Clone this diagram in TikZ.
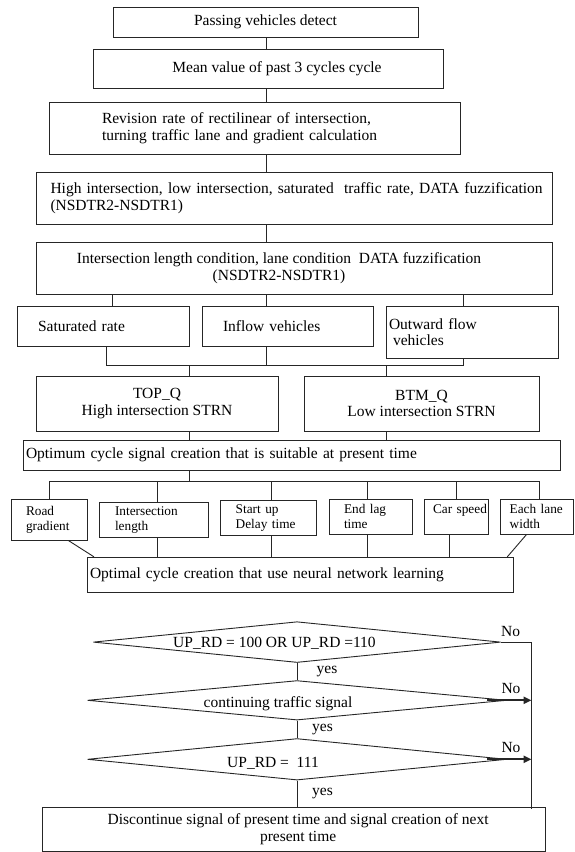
\documentclass[tikz,border=0pt]{standalone}
\usepackage{fontspec}
\setmainfont{Liberation Serif}
\usetikzlibrary{shapes.geometric,arrows.meta}

% zero-width line whose text is moved sideways (#1 = twice the offset)
\newcommand\shiftedtext[2]{\makebox[0pt]{\hspace*{#1}#2}}
% zero-size text, moved sideways (#1) and lowered (#2) from the node centre
\newcommand\liftedtext[3]{\makebox[0pt]{\hspace*{#1}\smash{\raisebox{#2}{#3}}}}

\tikzset{
  frame/.style={draw=black!85, line width=0.9pt, inner sep=0pt,
    font=\fontsize{15.5pt}{16.7pt}\selectfont},
  smallframe/.style={frame, font=\fontsize{13.3pt}{15pt}\selectfont},
  decision/.style={diamond, draw=black!85, line width=0.9pt, inner sep=0pt,
    font=\fontsize{15.5pt}{16.7pt}\selectfont},
  tag/.style={inner sep=0pt, font=\fontsize{15.5pt}{16.7pt}\selectfont},
  link/.style={draw=black!85, line width=0.9pt},
  noarrow/.style={line width=2pt, -{Triangle[length=8pt,width=7pt]}},
}

\begin{document}
\begin{tikzpicture}[x=1pt,y=-1pt]
\fill[white] (0,0) rectangle (574,852);
\useasboundingbox (0,0) rectangle (574,852);

% ---------- upper chain of processing steps ----------
\node[frame, minimum width=305pt, minimum height=30pt] (b1) at (265.5,22)
  {Passing vehicles detect};
\node[frame, minimum width=350pt, minimum height=39pt] (b2) at (268,68.5)
  {\shiftedtext{18pt}{Mean value of past 3 cycles cycle}};
\node[frame, minimum width=411pt, minimum height=52pt, text width=305pt,
      inner xsep=53pt, align=left] (b3) at (254.5,128)
  {Revision rate of rectilinear of intersection,\\ turning traffic lane and gradient calculation};
\node[frame, minimum width=516pt, minimum height=52pt, text width=487pt,
      inner xsep=14.5pt, align=left] (b4) at (294,198)
  {\mbox{High intersection, low intersection, saturated\ \ traffic rate, DATA fuzzification}\\ (NSDTR2-NSDTR1)};
\node[frame, minimum width=516pt, minimum height=52pt, align=center] (b5) at (294,268)
  {\shiftedtext{-30pt}{Intersection length condition, lane condition\ \ DATA fuzzification}\\
   \shiftedtext{-30pt}{(NSDTR2-NSDTR1)}};

% ---------- three measured quantities ----------
\node[frame, minimum width=172pt, minimum height=40pt, text width=130pt,
      inner xsep=21pt, align=left] (sat) at (103,326) {Saturated rate};
\node[frame, minimum width=171pt, minimum height=40pt, text width=129pt,
      inner xsep=21pt, align=left] (inflow) at (287.5,326) {Inflow vehicles};
\node[frame, minimum width=172pt, minimum height=52pt, text width=166pt,
      inner xsep=3pt, align=left] (outflow) at (472,332) {Outward flow\\ \hspace*{4pt}vehicles};

% ---------- high / low intersection ----------
\node[frame, minimum width=242pt, minimum height=55pt, align=center] (topq) at (157,403.5)
  {TOP\_Q\\ High intersection STRN};
\node[frame, minimum width=235pt, minimum height=55pt, align=center] (btmq) at (421.5,403.5)
  {BTM\_Q\\ Low intersection STRN};

\node[frame, minimum width=536.5pt, minimum height=29.5pt, text width=531.5pt,
      inner xsep=2.5pt, align=left] (opt1) at (291.75,455.25)
  {Optimum cycle signal creation that is suitable at present time};

% ---------- learning inputs ----------
\node[smallframe, minimum width=76.5pt, minimum height=40.7pt, text width=46.5pt,
      inner xsep=15pt, align=left] (s1) at (49.25,519.65) {Road\\ \mbox{gradient}};
\node[smallframe, minimum width=108.6pt, minimum height=35pt, text width=78pt,
      inner xsep=15.3pt, align=left] (s2) at (154,520.2) {Intersection\\ length};
\node[smallframe, minimum width=95.6pt, minimum height=35.3pt, text width=65.6pt,
      inner xsep=15pt, align=left] (s3) at (268.5,517.65) {Start up\\ Delay time};
\node[smallframe, minimum width=83.3pt, minimum height=35pt, text width=53.3pt,
      inner xsep=15pt, align=left] (s4) at (370.65,516.8) {End lag\\ time};
\node[smallframe, minimum width=63.3pt, minimum height=35pt, text width=46.7pt,
      inner xsep=8.3pt, align=left] (s5) at (456.35,516.8) {\mbox{Car speed}\\ \mbox{}};
\node[smallframe, minimum width=72.8pt, minimum height=35pt, text width=54.8pt,
      inner xsep=9pt, align=left] (s6) at (537.1,516.8) {Each lane\\ width};

\node[frame, minimum width=426pt, minimum height=35.4pt, text width=420.6pt,
      inner xsep=2.7pt, align=left] (opt2) at (300.3,575)
  {Optimal cycle creation that use neural network learning};

% ---------- decisions ----------
\node[decision, minimum width=407.4pt, minimum height=40.8pt] (d1) at (297,642.1)
  {\liftedtext{-45pt}{-5pt}{UP\_RD = 100 OR UP\_RD =110}};
\node[decision, minimum width=419pt, minimum height=39.5pt] (d2) at (297,700.3)
  {\liftedtext{-38pt}{-7pt}{continuing traffic signal}};
\node[decision, minimum width=419pt, minimum height=41.5pt] (d3) at (297,759.3)
  {\liftedtext{-48pt}{-8.5pt}{UP\_RD =\ \ 111}};

\node[frame, minimum width=502.6pt, minimum height=43.8pt, align=center] (fin) at (294.1,829.2)
  {\shiftedtext{8pt}{Discontinue signal of present time and signal creation of next}\\
   \shiftedtext{8pt}{present time}};

\node[tag] (no1) at (510.7,631) {No};
\node[tag] (no2) at (511,688.3) {No};
\node[tag] (no3) at (511,747.7) {No};
\node[tag] (yes1) at (327,671.7) {yes};
\node[tag] (yes2) at (322.5,730) {yes};
\node[tag] (yes3) at (322.5,793.3) {yes};

% ---------- connectors ----------
\coordinate (mainx) at (266,0);
\draw[link] (b1.south -| mainx) -- (b2.north -| mainx);
\draw[link] (b2.south -| mainx) -- (b3.north -| mainx);
\draw[link] (b3.south -| mainx) -- (b4.north -| mainx);
\draw[link] (b4.south -| mainx) -- (b5.north -| mainx);
\draw[link] (b5.south -| mainx) -- (inflow.north -| mainx);

\coordinate (satx) at (112.7,0);
\coordinate (outx) at (463,0);
\draw[link] (b5.south -| satx) -- (sat.north -| satx);
\draw[link] (b5.south -| outx) -- (outflow.north -| outx);

\coordinate (busL) at (106.8,365);
\coordinate (busR) at (463,365);
\draw[link] (sat.south -| busL) -- (busL) -- (busR) -- (outflow.south -| busR);
\draw[link] (inflow.south -| mainx) -- (busL -| mainx);

\coordinate (topx) at (189,365);
\coordinate (btmx) at (386,365);
\draw[link] (topx) -- (topq.north -| topx);
\draw[link] (btmx) -- (btmq.north -| btmx);
\draw[link] (topq.south -| topx) -- (opt1.north -| topx);
\draw[link] (btmq.south -| btmx) -- (opt1.north -| btmx);

\coordinate (hub) at (189,481);
\coordinate (k1) at (49.4,481);
\coordinate (k2) at (157.3,481);
\coordinate (k3) at (271.7,481);
\coordinate (k4) at (367.3,481);
\coordinate (k5) at (456.3,481);
\coordinate (k6) at (539.6,481);
\draw[link] (opt1.south -| hub) -- (hub);
\draw[link] (k1) -- (k6);
\draw[link] (k1) -- (s1.north -| k1);
\draw[link] (k2) -- (s2.north -| k2);
\draw[link] (k3) -- (s3.north -| k3);
\draw[link] (k4) -- (s4.north -| k4);
\draw[link] (k5) -- (s5.north -| k5);
\draw[link] (k6) -- (s6.north -| k6);

\coordinate (u5) at (449.7,0);
\coordinate (g1a) at (68.3,0);
\coordinate (g1b) at (94,0);
\coordinate (g6a) at (526.3,0);
\coordinate (g6b) at (507.3,0);
\draw[link] (s1.south -| g1a) -- (opt2.north -| g1b);
\draw[link] (s2.south -| k2) -- (opt2.north -| k2);
\draw[link] (s3.south -| k3) -- (opt2.north -| k3);
\draw[link] (s4.south -| k4) -- (opt2.north -| k4);
\draw[link] (s5.south -| u5) -- (opt2.north -| u5);
\draw[link] (s6.south -| g6a) -- (opt2.north -| g6b);

\draw[link] (d1.south) -- (d2.north);
\draw[link] (d2.south) -- (d3.north);
\draw[link] (d3.south) -- (d3.south |- fin.north);

\coordinate (rx) at (531.5,0);
\coordinate (rb) at (531.5,809.3);
\draw[link] (d1.east) -- (d1.east -| rx) -- (rb);
\draw[link, noarrow] ([xshift=-19.5pt]d2.east) -- (d2.east -| rx);
\draw[link, noarrow] ([xshift=-19.5pt]d3.east) -- (d3.east -| rx);
\end{tikzpicture}
\end{document}
